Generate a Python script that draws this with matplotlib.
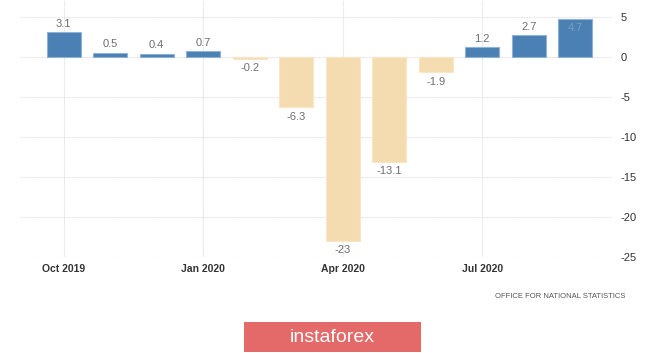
import matplotlib
matplotlib.use("Agg")
import matplotlib.pyplot as plt
from matplotlib.patches import Rectangle

months = ["Oct 2019", "Nov 2019", "Dec 2019", "Jan 2020", "Feb 2020", "Mar 2020",
          "Apr 2020", "May 2020", "Jun 2020", "Jul 2020", "Aug 2020", "Sep 2020"]
values = [3.1, 0.5, 0.4, 0.7, -0.2, -6.3, -23, -13.1, -1.9, 1.2, 2.7, 4.7]
labels = ["3.1", "0.5", "0.4", "0.7", "-0.2", "-6.3", "-23", "-13.1", "-1.9", "1.2", "2.7", "4.7"]
xtick_idx = [0, 3, 6, 9]
xtick_labels = ["Oct 2019", "Jan 2020", "Apr 2020", "Jul 2020"]
yticks = [5, 0, -5, -10, -15, -20, -25]
source = "OFFICE FOR NATIONAL STATISTICS"
brand = "instaforex"

plt.rcParams['font.family'] = ['Liberation Sans', 'DejaVu Sans']
plt.rcParams['axes.unicode_minus'] = False

fig = plt.figure(figsize=(6.65, 3.53), dpi=100)
fig.patch.set_facecolor("white")
ax = fig.add_axes([20/665, 1 - 257/353, 592/665, 257/353])

x = list(range(len(values)))
colors = ["#4a80b4" if v >= 0 else "#f5dcb0" for v in values]
ax.bar(x, values, width=0.73, color=colors, edgecolor=["#8fb2d6" if v >= 0 else "#f8e6c8" for v in values],
       linewidth=0.8, zorder=3)

ymax = 7.125
for i, (v, lab) in enumerate(zip(values, labels)):
    if v >= 0:
        if v + 3.0 > ymax:
            ax.text(i, v - 0.5, lab, ha="center", va="top", fontsize=8, color="#7d9cc0", zorder=4)
        else:
            ax.text(i, v + 0.45, lab, ha="center", va="bottom", fontsize=8, color="#6e6e6e", zorder=4)
    else:
        ax.text(i, v - 0.55, lab, ha="center", va="top", fontsize=8, color="#6e6e6e", zorder=4)

ax.set_xlim(-0.94, 11.79)
ax.set_ylim(-25, ymax)
ax.set_yticks(yticks)
ax.yaxis.tick_right()
ax.tick_params(axis="y", length=0, pad=6, labelsize=8, labelcolor="#333333")
ax.set_xticks(xtick_idx)
ax.set_xticklabels(xtick_labels, fontsize=7.5, fontweight="bold", color="#333333")
ax.tick_params(axis="x", length=0, pad=5)
ax.grid(True, color="#e4e4e4", linewidth=0.8, linestyle=(0, (1, 0.5)), zorder=0)
for s in ax.spines.values():
    s.set_visible(False)

fig.text(625/665, 1 - 296/353, source, ha="right", va="center", fontsize=5.5, color="#555555")

fig.patches.append(Rectangle((244/665, 1 - 352/353), 177/665, 30/353, transform=fig.transFigure,
                             facecolor="#e46a6a", edgecolor="none", figure=fig))
fig.text(332/665, 1 - 337/353, brand, ha="center", va="center", fontsize=14, color="white")

fig.savefig("out.png", dpi=100)
